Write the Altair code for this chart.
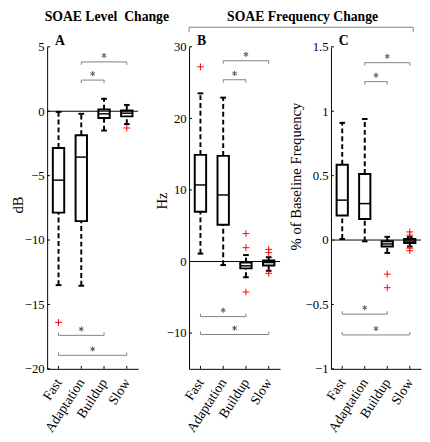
import json
import altair as alt
import pandas as pd

# ---------------- data ----------------
categories = ["Fast", "Adaptation", "Buildup", "Slow"]
positions = [1, 2, 3, 4]

# Panel A: SOAE level change (dB)
a_low = [-13.5, -13.55, -1.5, -1.0]
a_q1 = [-7.87, -8.53, -0.53, -0.40]
a_med = [-5.35, -3.56, -0.20, -0.15]
a_q3 = [-2.85, -1.86, 0.13, 0.05]
a_high = [-0.05, -0.20, 0.97, 0.49]
a_out_pos = [1, 4]
a_out_val = [-16.4, -1.3]
a_ticks = [-20, -15, -10, -5, 0, 5]
a_domain = [-20, 5]

# Panel B: SOAE frequency change (Hz)
b_low = [1.1, -0.5, -2.2, -1.3]
b_q1 = [6.96, 5.13, -0.96, -0.55]
b_med = [10.7, 9.3, -0.6, -0.14]
b_q3 = [14.9, 14.76, -0.14, 0.14]
b_high = [23.5, 22.9, 0.9, 0.6]
b_out_pos = [1, 3, 3, 3, 4, 4, 4]
b_out_val = [27.2, 3.9, 1.93, -4.26, 1.7, 1.24, -1.65]
b_ticks = [-10, 0, 10, 20, 30]
b_domain = [-15, 30]

# Panel C: SOAE frequency change (% of baseline frequency)
c_low = [0.008, -0.01, -0.10, -0.05]
c_q1 = [0.19, 0.164, -0.05, -0.023]
c_med = [0.31, 0.283, -0.03, -0.008]
c_q3 = [0.585, 0.513, -0.01, 0.008]
c_high = [0.91, 0.94, 0.025, 0.023]
c_out_pos = [3, 3, 4, 4, 4, 4]
c_out_val = [-0.265, -0.37, 0.063, 0.038, -0.063, -0.083]
c_ticks = [-1, -0.5, 0, 0.5, 1, 1.5]
c_domain = [-1, 1.5]

# significance brackets (between categories), level in data units
sig_from = [2, 2, 1, 1]
sig_to = [4, 3, 3, 4]
sig_side = ["top", "top", "bottom", "bottom"]
a_sig_level = [3.83, 2.42, -17.4, -18.95]
b_sig_level = [28.06, 25.4, -7.7, -10.2]
c_sig_level = [1.377, 1.23, -0.575, -0.737]

y_titles = ["dB", "Hz", "% of Baseline Frequency"]
panel_letters = ["A", "B", "C"]
headers = ["SOAE Level\u00a0 Change", "SOAE Frequency Change"]

# ---------------- styling ----------------
FONT = "Liberation Serif"
BLACK = "#000000"
GRAY = "#808080"
STAR = "#555555"
RED = "#ff0000"
HEIGHT = 329
label_expr = f"{json.dumps(categories)}[datum.value - 1]"
STAR_PATH = "M0,-1L0,1M-0.87,-0.5L0.87,0.5M-0.87,0.5L0.87,-0.5"
PLUS_PATH = "M-1,0H1M0,-1V1"


def make_panel(low, q1, med, q3, high, out_pos, out_val, ticks, domain,
               sig_level, ytitle, letter, width, title_x, title_y, extras):
    xscale = alt.Scale(domain=[0.5, 4.5], nice=False, zero=False)
    xaxis = alt.Axis(values=positions, labelExpr=label_expr, title=None,
                     labelAngle=-57, labelAlign="right", labelBaseline="middle",
                     labelPadding=11, labelOverlap=False, labelBound=False,
                     ticks=False, tickSize=0, grid=False,
                     domainColor=BLACK, domainWidth=1, labelFont=FONT,
                     labelFontSize=14, labelColor=BLACK)
    yscale = alt.Scale(domain=domain, nice=False, zero=False)
    yaxis = alt.Axis(values=ticks, labelExpr="format(datum.value, '~f')",
                     title=ytitle, grid=False, labelOverlap=False,
                     ticks=False, tickSize=0, domainColor=BLACK, domainWidth=1,
                     labelFont=FONT, labelFontSize=13, labelColor=BLACK,
                     labelPadding=3, titleFont=FONT, titleFontSize=15,
                     titleFontWeight="normal", titleColor=BLACK,
                     titleBaseline="alphabetic", titleX=title_x, titleY=title_y)

    def X(f):
        return alt.X(f, type="quantitative", scale=xscale, axis=xaxis)

    def Y(f):
        return alt.Y(f, type="quantitative", scale=yscale, axis=yaxis)

    stats = pd.DataFrame({"pos": positions, "lo": low, "q1": q1, "med": med,
                          "q3": q3, "hi": high})
    outl = pd.DataFrame({"pos": out_pos, "val": out_val})
    sig = pd.DataFrame({"i1": sig_from, "i2": sig_to, "level": sig_level,
                        "side": sig_side})
    zero = pd.DataFrame({"v": [0]})
    yt = pd.DataFrame({"t": ticks})
    xt = pd.DataFrame({"p": positions})
    one = pd.DataFrame({"k": [0]})

    base = alt.Chart(stats)
    boxed = base.transform_calculate(bl="datum.pos - 0.25", br="datum.pos + 0.25",
                                     cl="datum.pos - 0.125", cr="datum.pos + 0.125")

    layers = [
        alt.Chart(zero).mark_rule(color=BLACK, strokeWidth=1).encode(y=Y("v")),
        base.mark_rule(color=BLACK, strokeWidth=2, strokeDash=[5, 3]).encode(
            x=X("pos"), y=Y("q3"), y2="hi"),
        base.mark_rule(color=BLACK, strokeWidth=2, strokeDash=[5, 3]).encode(
            x=X("pos"), y=Y("lo"), y2="q1"),
        boxed.mark_rule(color=BLACK, strokeWidth=2).encode(
            x=X("cl"), x2="cr", y=Y("hi")),
        boxed.mark_rule(color=BLACK, strokeWidth=2).encode(
            x=X("cl"), x2="cr", y=Y("lo")),
        boxed.mark_rect(fill="transparent", stroke=BLACK, strokeWidth=2).encode(
            x=X("bl"), x2="br", y=Y("q1"), y2="q3"),
        boxed.mark_rule(color=BLACK, strokeWidth=1.5).encode(
            x=X("bl"), x2="br", y=Y("med")),
        alt.Chart(outl).mark_point(shape=PLUS_PATH, size=49, filled=False,
                                   stroke=RED, strokeWidth=1, opacity=1).encode(
            x=X("pos"), y=Y("val")),
        alt.Chart(sig).mark_rule(color=GRAY, strokeWidth=1).encode(
            x=X("i1"), x2="i2", y=Y("level")),
        alt.Chart(sig).transform_filter("datum.side == 'top'").transform_fold(
            ["i1", "i2"], as_=["end", "xe"]).mark_rule(
            color=GRAY, strokeWidth=1, y2Offset=3).encode(
            x=X("xe"), y=Y("level"), y2="level"),
        alt.Chart(sig).transform_filter("datum.side == 'bottom'").transform_fold(
            ["i1", "i2"], as_=["end", "xe"]).mark_rule(
            color=GRAY, strokeWidth=1, y2Offset=-3).encode(
            x=X("xe"), y=Y("level"), y2="level"),
        alt.Chart(sig).transform_calculate(mid="(datum.i1 + datum.i2) / 2").mark_point(
            shape=STAR_PATH, size=28, filled=False, stroke=STAR, strokeWidth=1,
            opacity=1, yOffset=-6.5).encode(x=X("mid"), y=Y("level")),
        alt.Chart(yt).mark_rule(color=BLACK, strokeWidth=1).encode(
            y=Y("t"), x=alt.value(0), x2=alt.value(3)),
        alt.Chart(xt).mark_rule(color=BLACK, strokeWidth=1).encode(
            x=X("p"), y=alt.value(HEIGHT), y2=alt.value(HEIGHT - 3)),
        alt.Chart(one).mark_text(text=letter, font=FONT, fontSize=14,
                                 fontWeight="bold", color=BLACK, align="left",
                                 baseline="alphabetic").encode(
            x=alt.value(8), y=alt.value(-2)),
    ] + extras
    return alt.layer(*layers).properties(width=width, height=HEIGHT)


one_row = pd.DataFrame({"k": [0]})

extras_a = [
    alt.Chart(one_row).mark_text(text=headers[0], font=FONT, fontSize=14,
                                 fontWeight="bold", color=BLACK, align="center",
                                 baseline="alphabetic").encode(
        x=alt.value(61), y=alt.value(-26)),
]
extras_b = [
    alt.Chart(one_row).mark_text(text=headers[1], font=FONT, fontSize=14,
                                 fontWeight="bold", color=BLACK, align="center",
                                 baseline="alphabetic").encode(
        x=alt.value(116), y=alt.value(-26)),
    alt.Chart(one_row).mark_rule(color=GRAY, strokeWidth=1).encode(
        x=alt.value(0), x2=alt.value(229), y=alt.value(-20)),
    alt.Chart(one_row).mark_rule(color=GRAY, strokeWidth=1).encode(
        x=alt.value(0), y=alt.value(-20), y2=alt.value(-15)),
    alt.Chart(one_row).mark_rule(color=GRAY, strokeWidth=1).encode(
        x=alt.value(229), y=alt.value(-20), y2=alt.value(-15)),
]

panel_a = make_panel(a_low, a_q1, a_med, a_q3, a_high, a_out_pos, a_out_val,
                     a_ticks, a_domain, a_sig_level, y_titles[0], panel_letters[0],
                     93, -25, 161, extras_a)
panel_b = make_panel(b_low, b_q1, b_med, b_q3, b_high, b_out_pos, b_out_val,
                     b_ticks, b_domain, b_sig_level, y_titles[1], panel_letters[1],
                     93, -23.5, 157, extras_b)
panel_c = make_panel(c_low, c_q1, c_med, c_q3, c_high, c_out_pos, c_out_val,
                     c_ticks, c_domain, c_sig_level, y_titles[2], panel_letters[2],
                     92, -31, 132, [])

chart = alt.hconcat(panel_a, panel_b, panel_c, spacing=52, bounds="flush").properties(
    padding={"left": 3, "top": -2, "right": 0, "bottom": 0}
).configure(font=FONT).configure_view(strokeWidth=0)

chart.save("out.html", embed_options={"renderer": "svg", "actions": False})
